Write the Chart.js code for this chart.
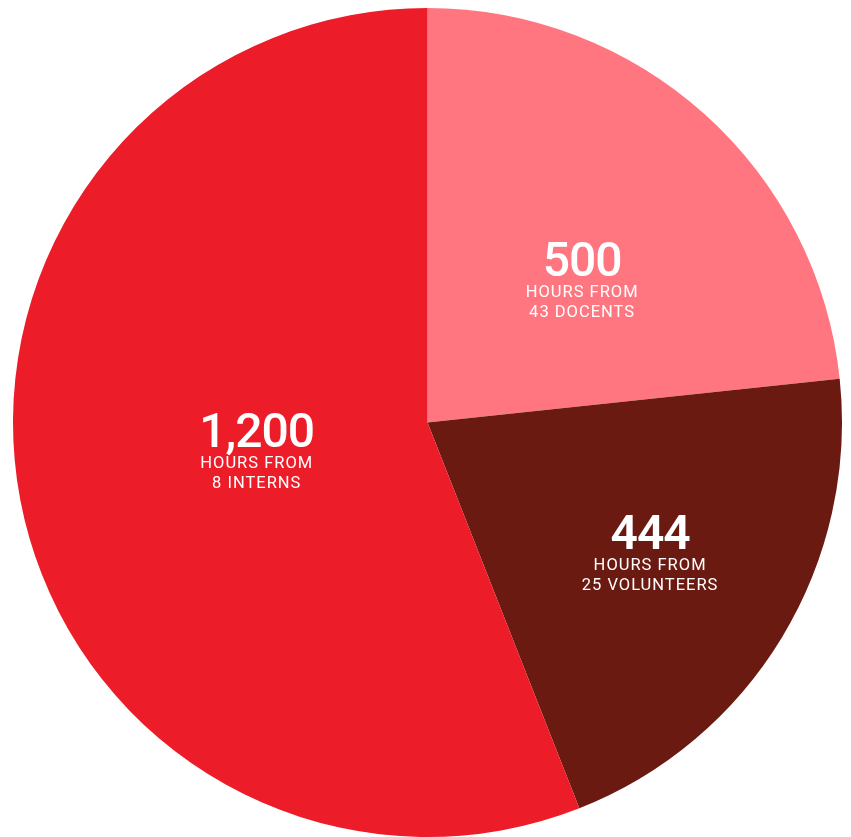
<!DOCTYPE html>
<html>
<head>
<meta charset="utf-8">
<script src="https://cdn.jsdelivr.net/npm/chart.js@4"></script>
<style>
html,body{margin:0;padding:0;background:#fff;}
#wrap{width:851px;height:837px;}
</style>
</head>
<body>
<div id="wrap"><canvas id="c" width="851" height="837"></canvas></div>
<script>
const categories = ["Docents", "Volunteers", "Interns"];
const hours = [500, 444, 1200];
const numberLabels = ["500", "444", "1,200"];
const line1Labels = ["HOURS FROM", "HOURS FROM", "HOURS FROM"];
const line2Labels = ["43 DOCENTS", "25 VOLUNTEERS", "8 INTERNS"];
const colors = ["#FF7680", "#6B1A11", "#ED1C29"];

// label anchor offsets (fractions of radius from pie centre) and weights
const labelOffsets = [[0.373, -0.354], [0.537, 0.304], [-0.412, 0.058]];
const numberWeights = ["500", "600", "500"];

const labelPlugin = {
  id: 'sliceLabels',
  afterDatasetsDraw(chart) {
    const ctx = chart.ctx;
    const meta = chart.getDatasetMeta(0);
    meta.data.forEach((arc, i) => {
      const r = arc.outerRadius;
      const x = arc.x + labelOffsets[i][0] * r;
      const y = arc.y + labelOffsets[i][1] * r;
      ctx.save();
      ctx.fillStyle = '#ffffff';
      ctx.textAlign = 'center';
      ctx.textBaseline = 'alphabetic';
      ctx.font = numberWeights[i] + ' 48px Roboto';
      if ('letterSpacing' in ctx) ctx.letterSpacing = '-1px';
      ctx.fillText(numberLabels[i], x, y);
      ctx.font = '400 16.5px Roboto';
      if ('letterSpacing' in ctx) ctx.letterSpacing = '1px';
      ctx.fillText(line1Labels[i], x, y + 21);
      ctx.fillText(line2Labels[i], x, y + 41);
      ctx.restore();
    });
  }
};

new Chart(document.getElementById('c'), {
  type: 'pie',
  data: {
    labels: categories,
    datasets: [{
      data: hours,
      backgroundColor: colors,
      borderWidth: 0
    }]
  },
  options: {
    responsive: false,
    animation: false,
    layout: { padding: { top: 8, bottom: 0, left: 12, right: 8 } },
    plugins: {
      legend: { display: false },
      tooltip: { enabled: false }
    }
  },
  plugins: [labelPlugin]
});
</script>
</body>
</html>
